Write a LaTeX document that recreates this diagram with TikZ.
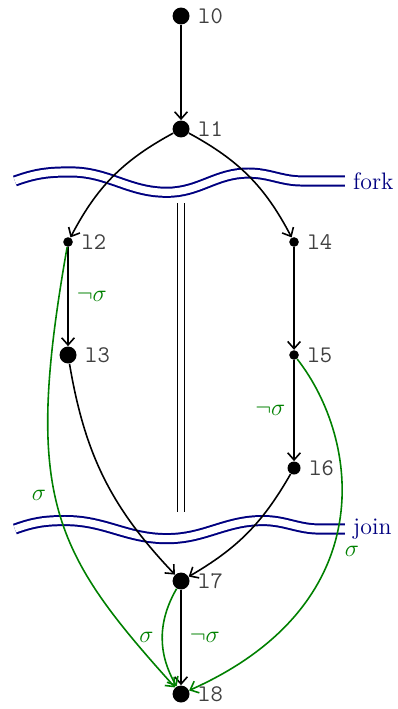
\documentclass[tikz,border=0pt,12pt]{standalone}
\usepackage{amsfonts,amssymb,amsmath}
\usepackage{tikz}
\usepackage{xcolor}
\usetikzlibrary{arrows.meta}

\begin{document}
\begin{tikzpicture}[>={Straight Barb[length=3.6pt,width=6.4pt]},
  bigdot/.style={shape=circle,fill=black,inner sep=0pt,minimum size=0.30cm},
  middot/.style={shape=circle,fill=black,inner sep=0pt,minimum size=0.23cm},
  smalldot/.style={shape=circle,fill=black,inner sep=0pt,minimum size=0.17cm},
  every label/.style={text=black!75,font=\ttfamily},
  flow/.style={thick,->},
  guard/.style={thick,->,green!50!black},
  cond/.style={text=green!50!black},
  barrier/.style={draw=blue!50!black,double,double distance=3.6pt,line width=1pt},
  parallel/.style={double,double distance=3pt,line width=0.6pt}]
\useasboundingbox (-3.204,0.283) rectangle (3.823,-12.265);
% fork and join
\node[text=blue!50!black,anchor=west] (fork) at (2.90,-2.92) {fork};
\node[text=blue!50!black,anchor=west] (join) at (2.90,-9.08) {join};
\draw[barrier] (-2.94,-2.92) to[out=20,in=180] (-1.96,-2.76) to[out=0,in=180] (-0.25,-3.12)
  to[out=0,in=180] (1.19,-2.78) to[out=0,in=180] (2.15,-2.92) -- (fork.west);
\draw[barrier] (-2.94,-9.08) to[out=20,in=180] (-2.05,-8.93) to[out=0,in=180] (-0.25,-9.25)
  to[out=0,in=180] (1.45,-8.93) to[out=0,in=180] (2.46,-9.08) -- (join.west);
\draw[parallel] (0,-3.31) -- (0,-8.78);
% locations
\node[bigdot,label=right:l0] (l0) at (0,0) {};
\node[bigdot,label=right:l1] (l1) at (0,-2) {};
\node[smalldot,label=right:l2] (l2) at (-2,-4) {};
\node[bigdot,label=right:l3] (l3) at (-2,-6) {};
\node[smalldot,label=right:l4] (l4) at (2,-4) {};
\node[smalldot,label=right:l5] (l5) at (2,-6) {};
\node[middot,label=right:l6] (l6) at (2,-8) {};
\node[bigdot,label=right:l7] (l7) at (0,-10) {};
\node[bigdot,label=right:l8] (l8) at (0,-12) {};
% transitions
\draw[flow] (l0) -- (l1);
\draw[flow] (l1) to[bend right=17] (l2);
\draw[flow] (l1) to[bend left=17] (l4);
\draw[flow] (l2) -- node[cond,right]{$\neg\sigma$} (l3);
\draw[flow] (l4) -- (l5);
\draw[flow] (l5) -- node[cond,left]{$\neg\sigma$} (l6);
\draw[flow] (l3) to[bend right=17] (l7);
\draw[flow] (l6) to[bend left=15] (l7);
\draw[flow] (l7) -- node[cond,right]{$\neg\sigma$} (l8);
\draw[guard] (l7) to[bend right=30] node[left]{$\sigma$} (l8);
\draw[guard] (l2) .. controls +(-100:4.6) and +(132:3.4) .. node[pos=0.46,left]{$\sigma$} (l8);
\draw[guard] (l5) .. controls +(-52:1.9) and +(24:3.9) .. node[pos=0.54,below right]{$\sigma$} (l8);
\end{tikzpicture}
\end{document}
